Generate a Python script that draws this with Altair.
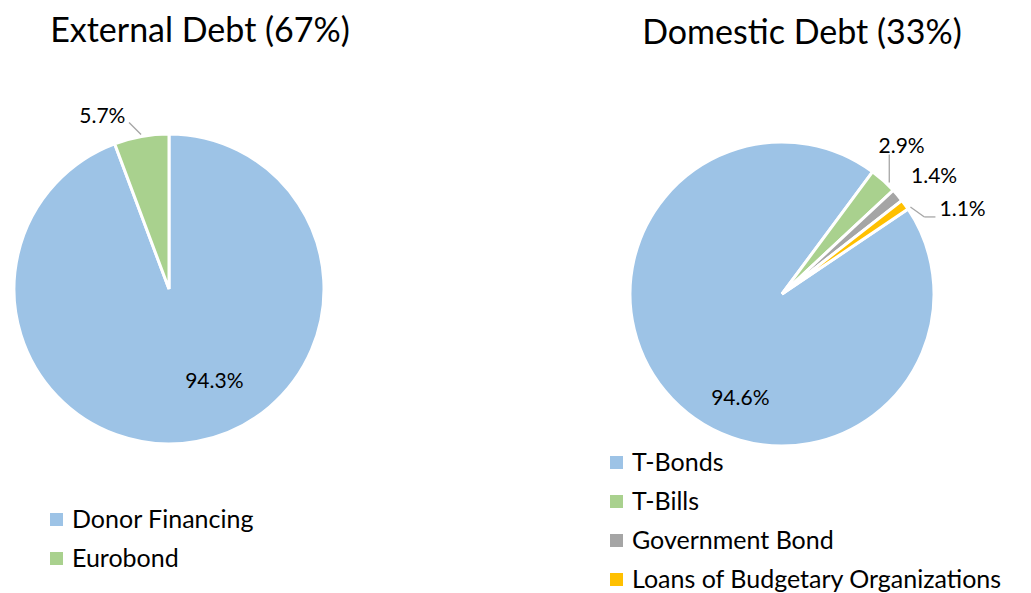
import altair as alt
import pandas as pd

# ---- data ----
ext_cats = ["Donor Financing", "Eurobond"]
ext_vals = [94.3, 5.7]
ext_labels = ["94.3%", "5.7%"]

dom_cats = ["T-Bonds", "T-Bills", "Government Bond", "Loans of Budgetary Organizations"]
dom_vals = [94.6, 2.9, 1.4, 1.1]
dom_labels = ["94.6%", "2.9%", "1.4%", "1.1%"]

ext_colors = ["#9DC3E6", "#A9D18E"]
dom_colors = ["#9DC3E6", "#A9D18E", "#A5A5A5", "#FFC000"]

FONT = "Lato"
PI = 3.141592653589793


def panel(cats, vals, labels, colors, title, title_dx, title_dy, W, H, R, start_deg,
          label_specs, leader_specs, legend_x, legend_y):
    df = pd.DataFrame({"cat": cats, "value": vals, "label": labels,
                       "order": list(range(len(cats)))})
    base = alt.Chart(df).transform_window(
        cum="sum(value)", sort=[alt.SortField("order")]
    ).transform_calculate(
        start="datum.cum - datum.value",
        mid="datum.cum - datum.value / 2",
        ang=f"({start_deg} + datum.mid * 3.6) * PI / 180",
    )
    theta_scale = alt.Scale(domain=[0, 100],
                            range=[start_deg * PI / 180, start_deg * PI / 180 + 2 * PI])
    arcs = base.mark_arc(outerRadius=R, stroke="white", strokeWidth=3).encode(
        theta=alt.Theta("start:Q", scale=theta_scale),
        theta2="cum:Q",
        color=alt.Color("cat:N", sort=cats,
                        scale=alt.Scale(domain=cats, range=colors),
                        legend=alt.Legend(orient="none", legendX=legend_x, legendY=legend_y,
                                          title=None, symbolType="square", symbolSize=170,
                                          symbolStrokeWidth=0, labelFont=FONT,
                                          labelFontSize=25, labelColor="#000000",
                                          labelOffset=3, rowPadding=13, labelLimit=500)),
    )
    layers = [arcs]
    for cat, r, dx, dy in label_specs:
        layers.append(
            base.transform_filter(alt.datum.cat == cat).mark_text(
                radius=r, dx=dx, dy=dy, font=FONT, fontSize=21, color="#000000",
                align="center", baseline="middle"
            ).encode(theta=alt.Theta("mid:Q", scale=theta_scale, stack=None), text="label:N")
        )
    xs = alt.Scale(domain=[-W / 2, W / 2], nice=False, zero=False)
    ys = alt.Scale(domain=[-H / 2, H / 2], nice=False, zero=False)
    for cat, r, xo, yo, x2o, y2o in leader_specs:
        layers.append(
            base.transform_filter(alt.datum.cat == cat).transform_calculate(
                lx=f"{r} * sin(datum.ang)", ly=f"{r} * cos(datum.ang)"
            ).mark_rule(color="#A6A6A6", strokeWidth=1.3, xOffset=xo, yOffset=yo,
                        x2Offset=x2o, y2Offset=y2o).encode(
                x=alt.X("lx:Q", scale=xs, axis=None),
                y=alt.Y("ly:Q", scale=ys, axis=None),
                x2="lx:Q", y2="ly:Q",
            )
        )
    return alt.layer(*layers).properties(
        width=W, height=H,
        title=alt.TitleParams(title, font=FONT, fontSize=34, fontWeight="normal",
                              color="#000000", anchor="middle", dx=title_dx,
                              dy=title_dy, offset=8),
    )


left = panel(
    ext_cats, ext_vals, ext_labels, ext_colors, "External Debt (67%)", 31, 0,
    318, 464, 155, 0,
    [("Donor Financing", 103, 27, -8), ("Eurobond", 172, -36, -3)],
    [("Eurobond", 157, 0, 0, -12, -12)],
    34, 450,
)

right = panel(
    dom_cats, dom_vals, dom_labels, dom_colors, "Domestic Debt (33%)", 20, 2,
    360, 474, 152, 56,
    [("T-Bonds", 113, 40, 27), ("T-Bills", 175, 3, -17),
     ("Government Bond", 175, 19, -3),
     ("Loans of Budgetary Organizations", 175, 39, 19)],
    [("T-Bills", 155, 4, 4, 4, -24),
     ("Loans of Budgetary Organizations", 155, 3, 4, 17, 14),
     ("Loans of Budgetary Organizations", 155, 17, 14, 28, 14)],
    2, 393,
)

chart = alt.hconcat(left, right, spacing=274, bounds="flush").resolve_scale(
    color="independent", theta="independent", x="independent", y="independent"
).properties(padding={"top": 7, "left": 0, "right": 0, "bottom": 0}).configure_view(stroke=None)

chart.save("out.html", embed_options={"renderer": "svg", "actions": False})
